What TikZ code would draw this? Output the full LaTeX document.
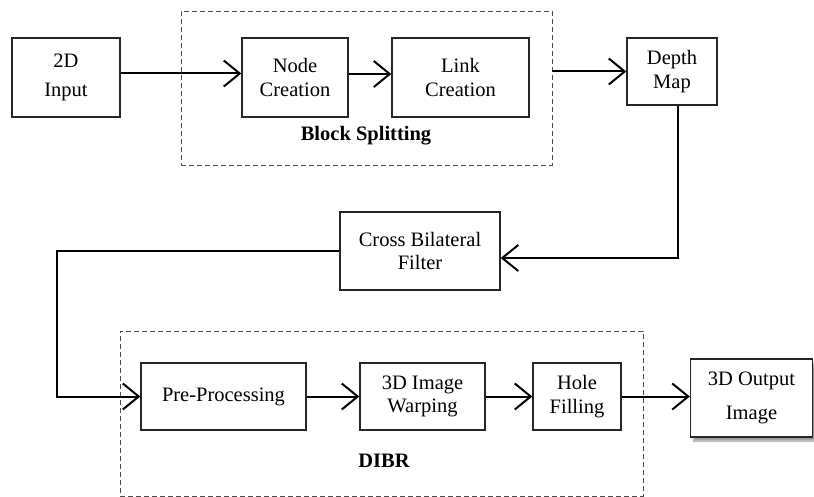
\documentclass[tikz,border=0pt]{standalone}
\usepackage{fontspec}
\setmainfont{Liberation Serif}
\usetikzlibrary{arrows.meta,shadows.blur}
\begin{document}
\begin{tikzpicture}[x=1pt,y=-1pt,
  box/.style={draw=black!85,line width=1.3pt,fill=white,inner sep=0pt,align=center,
    font=\fontsize{20.5}{23.5}\selectfont},
  grp/.style={draw=black!70,line width=0.9pt,dash pattern=on 5pt off 3pt,inner sep=0pt},
  lbl/.style={font=\fontsize{20.5}{23.5}\selectfont\bfseries},
  conn/.style={line width=2pt,-{Straight Barb[length=16pt,width=26pt]}},
  plain/.style={line width=2pt}]
\useasboundingbox (0,0) rectangle (814,497);
% group frames
\node[grp,minimum width=371pt,minimum height=154pt] (bs) at (366.5,88) {};
\node[grp,minimum width=523pt,minimum height=165pt] (dibr) at (381.5,413.5) {};
\node[lbl] (bsl) at (366,136) {Block Splitting};
\node[lbl] (dibrl) at (384,461) {DIBR};
% boxes
\node[box,minimum width=108pt,minimum height=79pt] (in) at (66,77.5) {2D\\[6pt]Input};
\node[box,minimum width=106pt,minimum height=79pt] (nc) at (295,77.5) {Node\\Creation};
\node[box,minimum width=137pt,minimum height=79pt] (lc) at (460.5,77.5) {Link\\Creation};
\node[box,minimum width=90pt,minimum height=67pt] (dm) at (672,71.5) {Depth\\Map};
\node[box,minimum width=160pt,minimum height=78pt] (cb) at (420,251) {Cross Bilateral\\Filter};
\node[box,minimum width=165pt,minimum height=67pt] (pp) at (223.5,396.5) {Pre-Processing};
\node[box,minimum width=125pt,minimum height=67pt] (iw) at (422.5,396.5) {3D Image\\Warping};
\node[box,minimum width=88pt,minimum height=67pt] (hf) at (577,396.5) {Hole\\Filling};
\node[box,minimum width=122pt,minimum height=78pt,blur shadow={shadow xshift=3pt,shadow yshift=-4pt,shadow blur steps=6}] (out) at (751.5,398) {3D Output\\[10pt]Image};
\coordinate (lft) at (57,251);
% connectors
\draw[conn] ([yshift=4pt]in.east) -- ([yshift=4pt]in.east -| nc.west);
\draw[conn] ([yshift=3.5pt]nc.east) -- ([yshift=3.5pt]nc.east -| lc.west);
\draw[conn] (bs.east |- dm.west) -- (dm.west);
\draw[conn] ([xshift=6pt]dm.south) |- ([yshift=-7pt]cb.east);
\draw[conn] (cb.west) -- (cb.west -| lft) |- (pp.west);
\draw[conn] (pp.east) -- (pp.east -| iw.west);
\draw[conn] (iw.east) -- (iw.east -| hf.west);
\draw[conn] (hf.east) -- (hf.east -| out.west);
\end{tikzpicture}
\end{document}
